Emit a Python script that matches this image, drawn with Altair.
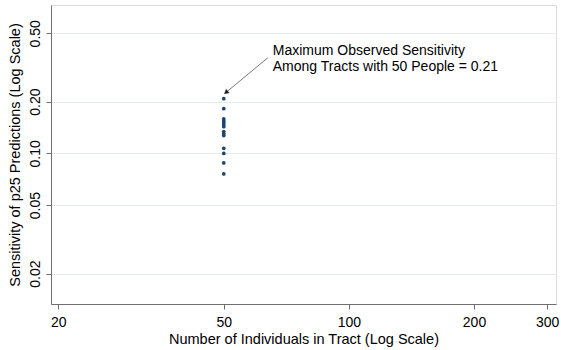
import altair as alt
import pandas as pd

# Data
tract_size = [50] * 14
sensitivity = [0.208, 0.182, 0.159, 0.155, 0.151, 0.147, 0.143, 0.134, 0.130, 0.127,
               0.107, 0.100, 0.088, 0.076]

x_ticks = [20, 50, 100, 200, 300]
y_ticks = [0.02, 0.05, 0.10, 0.20, 0.50]

ann_lines = ["Maximum Observed Sensitivity", "Among Tracts with 50 People = 0.21"]
ann_x = [65.6, 65.6]
ann_y = [0.375, 0.303]

arrow_tail = (63.8, 0.36)
arrow_head = (50.6, 0.226)

FONT = "Liberation Sans"
NAVY = "#1a476f"

xscale = alt.Scale(type="log", domain=[19.2, 315], nice=False)
yscale = alt.Scale(type="log", domain=[0.0133, 0.73], nice=False)

df = pd.DataFrame({"n": tract_size, "s": sensitivity})

points = alt.Chart(df).mark_circle(size=14, color=NAVY, opacity=1).encode(
    x=alt.X("n:Q", scale=xscale,
            axis=alt.Axis(values=x_ticks, format="d", title="Number of Individuals in Tract (Log Scale)",
                          grid=False, domainColor="#6e6e6e", tickColor="#6e6e6e", tickSize=5,
                          labelFont=FONT, labelFontSize=14, labelColor="black", labelPadding=6,
                          titleFont=FONT, titleFontSize=14.5, titleFontWeight="normal",
                          titleColor="black", titlePadding=3)),
    y=alt.Y("s:Q", scale=yscale,
            axis=alt.Axis(values=y_ticks, format=".2f",
                          title="Sensitivity of p25 Predictions (Log Scale)",
                          grid=True, gridColor="#e4ecef", gridWidth=1,
                          domainColor="#6e6e6e", tickColor="#6e6e6e", tickSize=5,
                          labelAngle=270, labelAlign="center", labelBaseline="bottom",
                          labelFont=FONT, labelFontSize=14, labelColor="black", labelPadding=4,
                          titleFont=FONT, titleFontSize=14.5, titleFontWeight="normal",
                          titleColor="black", titlePadding=6)),
)

ann_df = pd.DataFrame({"x": ann_x, "y": ann_y, "t": ann_lines})
text = alt.Chart(ann_df).mark_text(align="left", baseline="alphabetic", font=FONT,
                                   fontSize=14, color="black").encode(
    x=alt.X("x:Q", scale=xscale), y=alt.Y("y:Q", scale=yscale), text="t:N")

arrow_df = pd.DataFrame({"x": [arrow_tail[0]], "y": [arrow_tail[1]],
                         "x2": [arrow_head[0]], "y2": [arrow_head[1]]})
arrow_line = alt.Chart(arrow_df).mark_rule(color="#555555", strokeWidth=0.8).encode(
    x=alt.X("x:Q", scale=xscale), y=alt.Y("y:Q", scale=yscale), x2="x2:Q", y2="y2:Q")

head_df = pd.DataFrame({"x": [arrow_head[0]], "y": [arrow_head[1]]})
arrow_head_mark = alt.Chart(head_df).mark_point(shape="triangle-up", filled=True, size=30,
                                                 color="#222222", angle=230, opacity=1).encode(
    x=alt.X("x:Q", scale=xscale), y=alt.Y("y:Q", scale=yscale))

chart = alt.layer(points, arrow_line, arrow_head_mark, text).properties(
    width=505, height=299,
    autosize=alt.AutoSizeParams(type="none"),
    padding={"left": 51, "top": 5, "right": 5, "bottom": 46},
).configure_view(stroke=None).configure(background="white")

chart.save("out.html", embed_options={"renderer": "svg", "actions": False})
